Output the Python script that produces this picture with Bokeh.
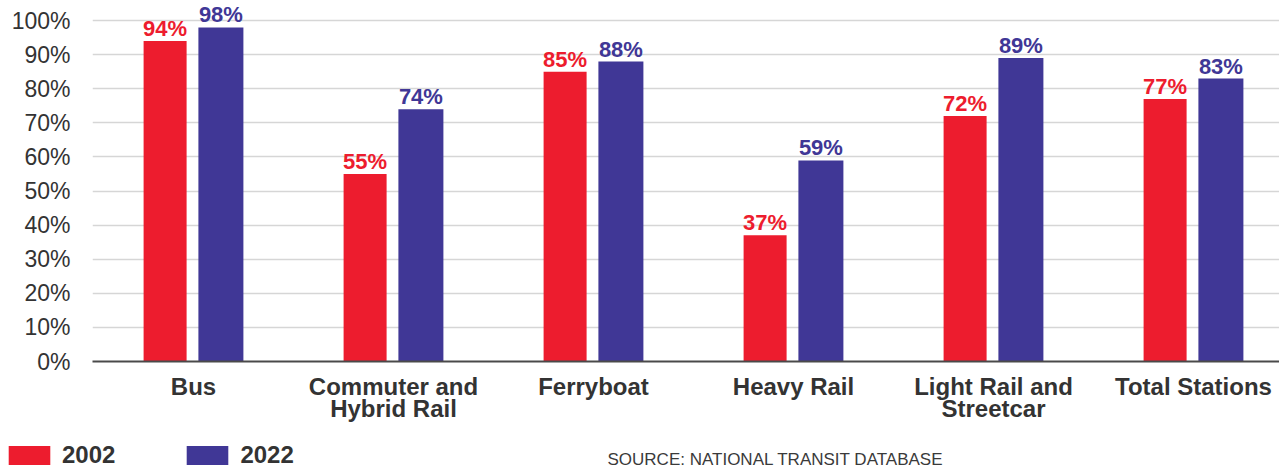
from bokeh.plotting import figure
from bokeh.layouts import column
from bokeh.models import ColumnDataSource, Range1d, FixedTicker, Legend, LegendItem, Label, NumeralTickFormatter
from bokeh.transform import dodge
from bokeh.core.properties import value
from bokeh.embed import file_html
from bokeh.resources import INLINE

categories = ["Bus", "Commuter and\nHybrid Rail", "Ferryboat", "Heavy Rail", "Light Rail and\nStreetcar", "Total Stations"]
series_names = ["2002", "2022"]
share_2002 = [94, 55, 85, 37, 72, 77]
share_2022 = [98, 74, 88, 59, 89, 83]
y_ticks = [0, 10, 20, 30, 40, 50, 60, 70, 80, 90, 100]
source_note = "SOURCE: NATIONAL TRANSIT DATABASE"

RED = "#ED1C2E"
BLUE = "#403796"
TXT = "#333333"
FONT = "Liberation Sans"

idx = list(range(len(categories)))
src = ColumnDataSource(dict(
    x=idx, a=share_2002, b=share_2022,
    la=[f"{v}%" for v in share_2002], lb=[f"{v}%" for v in share_2022],
))

p = figure(width=1279, height=430, output_backend="svg", toolbar_location=None,
           x_range=Range1d(-0.505, 5.43), y_range=Range1d(0, 105.9),
           min_border_left=92, min_border_right=0, min_border_top=0, min_border_bottom=69)
p.frame_align = False
p.outline_line_color = None
p.background_fill_color = "white"
p.border_fill_color = "white"

p.vbar(x=dodge("x", -0.142, range=p.x_range), top="a", width=0.215, source=src,
       fill_color=RED, line_color=None)
p.vbar(x=dodge("x", 0.137, range=p.x_range), top="b", width=0.225, source=src,
       fill_color=BLUE, line_color=None)

p.text(x=dodge("x", -0.142, range=p.x_range), y="a", text="la", source=src,
       text_align="center", text_baseline="bottom", y_offset=0,
       text_font=value(FONT), text_font_style="bold", text_font_size="22px", text_color=RED)
p.text(x=dodge("x", 0.137, range=p.x_range), y="b", text="lb", source=src,
       text_align="center", text_baseline="bottom", y_offset=0,
       text_font=value(FONT), text_font_style="bold", text_font_size="22px", text_color=BLUE)

# axes
p.xaxis.ticker = FixedTicker(ticks=idx)
p.xaxis.major_label_overrides = {i: c for i, c in enumerate(categories)}
p.xaxis.major_tick_line_color = None
p.xaxis.minor_tick_line_color = None
p.xaxis.axis_line_color = "#4a4a4a"
p.xaxis.axis_line_width = 2
p.xaxis.major_label_text_font = FONT
p.xaxis.major_label_text_font_style = "bold"
p.xaxis.major_label_text_font_size = "24px"
p.xaxis.major_label_text_color = TXT
p.xaxis.major_label_text_line_height = 0.85
p.xaxis.major_label_standoff = 5

p.yaxis.ticker = FixedTicker(ticks=y_ticks)
p.yaxis.formatter = NumeralTickFormatter(format="0")
p.yaxis.major_label_overrides = {t: f"{t}%" for t in y_ticks}
p.yaxis.axis_line_color = None
p.yaxis.major_tick_line_color = None
p.yaxis.minor_tick_line_color = None
p.yaxis.major_label_text_font = FONT
p.yaxis.major_label_text_font_size = "23px"
p.yaxis.major_label_text_color = TXT
p.yaxis.major_label_standoff = 16

p.xgrid.grid_line_color = None
p.ygrid.ticker = FixedTicker(ticks=y_ticks[1:])
p.ygrid.grid_line_color = "#d6d6d6"
p.ygrid.grid_line_width = 1.5

# legend / source strip
q = figure(width=1279, height=39, output_backend="svg", toolbar_location=None,
           x_axis_location=None, y_axis_location=None,
           min_border_left=0, min_border_right=0, min_border_top=0, min_border_bottom=0)
q.frame_align = False
q.outline_line_color = None
q.xgrid.grid_line_color = None
q.ygrid.grid_line_color = None
proxy = ColumnDataSource(dict(x=[0], top=[0]))
g1 = q.vbar(x="x", top="top", width=0, source=proxy, fill_color=RED, line_color=None)
g2 = q.vbar(x="x", top="top", width=0, source=proxy, fill_color=BLUE, line_color=None)
legend = Legend(items=[LegendItem(label=series_names[0], renderers=[g1]),
                       LegendItem(label=series_names[1], renderers=[g2])],
                orientation="horizontal", location=(3, 0),
                glyph_width=52, glyph_height=24, label_standoff=7, spacing=66,
                padding=0, margin=0, border_line_color=None, background_fill_alpha=0,
                label_text_font=FONT, label_text_font_style="bold", label_text_font_size="24px",
                label_text_color=TXT, label_height=24)
q.add_layout(legend, "center")
q.add_layout(Label(x=607, y=1, x_units="screen", y_units="screen",
                   text=source_note, text_font=FONT,
                   text_font_size="17px", text_color="#3a3a3a", text_baseline="bottom"))

open("out.html", "w").write(file_html(column(p, q, spacing=0), INLINE))
